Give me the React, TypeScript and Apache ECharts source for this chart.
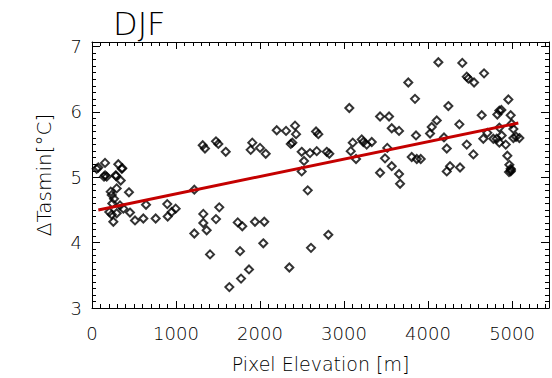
import React, { useEffect, useRef } from "react";
import * as echarts from "echarts";

const title = "DJF";
const xAxisName = "Pixel Elevation [m]";
const yAxisName = "ΔTasmin[°C]";

const xMin = 0;
const xMax = 5440;
const yMin = 3;
const yMax = 7.07;

const elevation = [
  56, 143, 175, 286, 354, 342, 223, 235, 294, 440, 262, 242, 333, 373, 206, 235, 294, 452, 643, 254,
  512, 611, 758, 896, 901, 949, 996, 1218, 1218, 1325, 1325, 1365, 1476, 1515, 1405, 1635, 1735, 1789, 1762, 1774,
  1869, 1940, 2051, 2039, 2349, 2496, 2568, 2607, 75, 155, 313, 361, 155, 282, 1318, 1345, 1476, 1504, 1592, 1908,
  1889, 2000, 2068, 2199, 2310, 2417, 2429, 2366, 2385, 2496, 2595, 2675, 2667, 2524, 2694, 2794, 2825, 3063, 3080, 3104,
  3143, 3211, 3230, 3270, 3330, 3429, 3536, 3568, 3655, 3515, 3488, 3568, 3429, 3655, 3765, 3845, 3806, 3866, 3913, 3857,
  4024, 4044, 4104, 4123, 4190, 4223, 4242, 4262, 4223, 4381, 4373, 4408, 4461, 4480, 4548, 4667, 4461, 4540, 4639, 4658,
  4706, 4777, 4825, 4849, 4873, 4849, 4818, 4849, 4877, 4925, 4956, 4984, 4996, 5016, 5016, 5048, 5087, 4944, 4968, 4984,
  4984, 4988, 4964, 2813, 3667,
];

const dTasmin = [
  5.13, 5.01, 5.01, 5.02, 5.13, 4.95, 4.78, 4.73, 4.83, 4.77, 4.67, 4.60, 4.57, 4.52, 4.47, 4.43, 4.45, 4.46, 4.58, 4.32,
  4.34, 4.37, 4.37, 4.59, 4.40, 4.47, 4.52, 4.81, 4.14, 4.44, 4.30, 4.19, 4.36, 4.54, 3.82, 3.32, 4.31, 4.25, 3.87, 3.45,
  3.59, 4.32, 4.32, 3.99, 3.62, 5.09, 4.80, 3.92, 5.15, 5.22, 5.20, 5.14, 5.03, 5.03, 5.49, 5.44, 5.55, 5.51, 5.39, 5.53,
  5.42, 5.45, 5.36, 5.72, 5.71, 5.79, 5.66, 5.51, 5.53, 5.39, 5.37, 5.40, 5.70, 5.25, 5.66, 5.39, 5.36, 6.06, 5.40, 5.53,
  5.28, 5.58, 5.54, 5.50, 5.54, 5.93, 5.93, 5.75, 5.71, 5.45, 5.29, 5.17, 5.07, 5.05, 6.45, 6.20, 5.31, 5.28, 5.28, 5.64,
  5.67, 5.77, 5.87, 6.76, 5.61, 5.44, 6.09, 5.17, 5.09, 5.15, 5.81, 6.75, 6.54, 6.51, 6.45, 6.59, 5.50, 5.35, 5.95, 5.59,
  5.68, 5.59, 5.96, 6.02, 6.03, 5.76, 5.59, 5.53, 5.64, 5.50, 6.19, 5.95, 5.82, 5.74, 5.60, 5.62, 5.60, 5.33, 5.19, 5.13,
  5.09, 5.11, 5.08, 4.12, 4.90,
];

const fitX = [75, 5075];
const fitY = [4.5, 5.83];

const FONT = "'DejaVu Sans', sans-serif";
const FW = 200;

function isInt(v: number) {
  return Math.abs(v - Math.round(v)) < 1e-6;
}

function App() {
  const ref = useRef<HTMLDivElement>(null);
  useEffect(() => {
    if (!ref.current) return;
    const chart = echarts.init(ref.current, undefined, { renderer: "svg" });

    const labelStyle = { color: "#000", fontFamily: FONT, fontWeight: FW, fontSize: 18 } as any;

    const xAxisMaker = (pos: string, major: boolean, showLabel: boolean, name?: string) => ({
      type: "value",
      position: pos,
      min: xMin,
      max: xMax,
      interval: major ? 1000 : 100,
      axisLine: { show: major, onZero: false, lineStyle: { color: "#000", width: 1 } },
      axisTick: { show: true, inside: true, length: major ? 7 : 4, lineStyle: { color: "#000", width: 1 } },
      axisLabel: {
        show: showLabel,
        margin: 16,
        ...labelStyle,
        formatter: (v: number) => (v % 1000 === 0 ? String(v) : ""),
      },
      splitLine: { show: false },
      name: name || "",
      nameLocation: "middle",
      nameGap: 46,
      nameTextStyle: { color: "#000", fontFamily: FONT, fontWeight: FW, fontSize: 19 },
    });

    const yAxisMaker = (pos: string, major: boolean, showLabel: boolean, name?: string) => ({
      type: "value",
      position: pos,
      min: yMin,
      max: yMax,
      interval: major ? 1 : 0.1,
      axisLine: { show: major, onZero: false, lineStyle: { color: "#000", width: 1 } },
      axisTick: { show: true, inside: true, length: major ? 8 : 4, lineStyle: { color: "#000", width: 1 } },
      axisLabel: {
        show: showLabel,
        margin: 10,
        ...labelStyle,
        formatter: (v: number) => (isInt(v) ? String(Math.round(v)) : ""),
      },
      splitLine: { show: false },
      name: name || "",
      nameLocation: "middle",
      nameGap: 38,
      nameTextStyle: { color: "#000", fontFamily: FONT, fontWeight: FW, fontSize: 20 },
    });

    const points = elevation.map((x, i) => [x, dTasmin[i]]);
    const fit = fitX.map((x, i) => [x, fitY[i]]);

    chart.setOption({
      animation: false,
      backgroundColor: "#fff",
      title: {
        text: title,
        left: 108,
        top: 3,
        textStyle: { color: "#000", fontFamily: FONT, fontWeight: FW, fontSize: 32 },
      },
      grid: { left: 92, right: 3, top: 42, bottom: 68, containLabel: false },
      xAxis: [
        xAxisMaker("bottom", true, true, xAxisName),
        xAxisMaker("bottom", false, false),
        xAxisMaker("top", true, false),
        xAxisMaker("top", false, false),
      ],
      yAxis: [
        yAxisMaker("left", true, true, yAxisName),
        yAxisMaker("left", false, false),
        yAxisMaker("right", true, false),
        yAxisMaker("right", false, false),
      ],
      series: [
        {
          type: "scatter",
          xAxisIndex: 0,
          yAxisIndex: 0,
          data: points,
          symbol: "diamond",
          symbolSize: 8,
          itemStyle: { color: "rgba(0,0,0,0)", borderColor: "#000", borderWidth: 2 },
          z: 2,
        },
        {
          type: "line",
          xAxisIndex: 0,
          yAxisIndex: 0,
          data: fit,
          showSymbol: false,
          symbol: "none",
          lineStyle: { color: "#c40000", width: 3 },
          z: 3,
        },
      ],
    });
    return () => chart.dispose();
  }, []);
  return <div ref={ref} style={{ width: 552, height: 378, position: "absolute", left: 0, top: 0 }} />;
}

export default App;
